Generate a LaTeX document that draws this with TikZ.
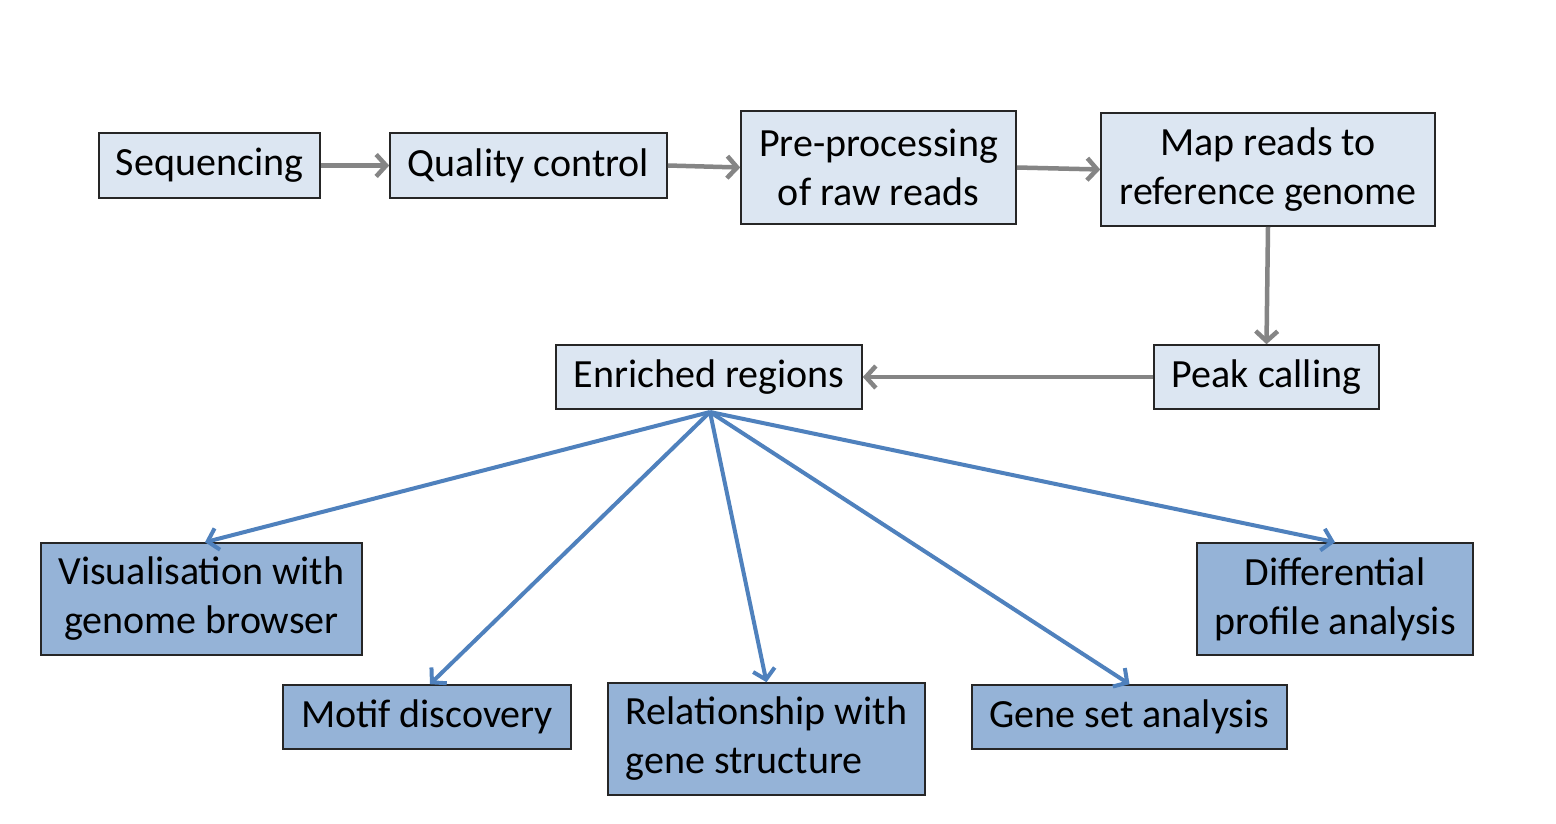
\documentclass[tikz,border=0pt]{standalone}
\usepackage{fontspec}
\setmainfont{Carlito}
\usetikzlibrary{arrows.meta}
\definecolor{lightbox}{HTML}{DCE6F2}
\definecolor{darkbox}{HTML}{95B3D7}
\definecolor{grayarrow}{HTML}{858585}
\definecolor{bluearrow}{HTML}{4F81BD}
\tikzset{
  box/.style={draw=black!85, line width=1.6pt, inner sep=0pt, align=center,
    font=\fontsize{40}{49}\selectfont},
  lbox/.style={box, fill=lightbox},
  dbox/.style={box, fill=darkbox},
  garrow/.style={draw=grayarrow, line width=4.5pt, -{Straight Barb[length=10pt,width=22pt,line width=4.5pt]}},
  barrow/.style={draw=bluearrow, line width=4pt, -{Straight Barb[length=10pt,width=22pt,line width=4pt]}},
}
\begin{document}
\begin{tikzpicture}[x=1pt,y=-1pt]
\useasboundingbox[fill=white] (0,0) rectangle (1556,824);
\node[lbox, minimum width=221pt, minimum height=65pt] (seq) at (209.5,165.5) {Sequencing};
\node[lbox, minimum width=277pt, minimum height=65pt] (qc) at (528.5,165.5) {Quality control};
\node[lbox, minimum width=275pt, minimum height=113pt] (pre) at (878.5,167.5) {Pre-processing\\of raw reads};
\node[lbox, minimum width=334pt, minimum height=113pt] (map) at (1268,169.5) {Map reads to\\reference genome};
\node[lbox, minimum width=225pt, minimum height=64pt] (peak) at (1266.5,377) {Peak calling};
\node[lbox, minimum width=306pt, minimum height=64pt] (enr) at (709,377) {Enriched regions};
\node[dbox, minimum width=321pt, minimum height=112pt] (vis) at (201.5,599) {Visualisation with\\genome browser};
\node[dbox, minimum width=288pt, minimum height=64pt] (motif) at (427,717) {Motif discovery};
\node[dbox, minimum width=317pt, minimum height=112pt, align=left] (rel) at (766.5,739) {Relationship with\\gene structure};
\node[dbox, minimum width=315pt, minimum height=64pt] (gene) at (1129.5,717) {Gene set analysis};
\node[dbox, minimum width=276pt, minimum height=112pt] (diff) at (1335,599) {Differential\\profile analysis};

\draw[garrow] (seq.east) -- (qc.west);
\draw[garrow] (qc.east) -- (pre.west);
\draw[garrow] (pre.east) -- (map.west);
\draw[garrow] (map.south) -- (peak.north);
\draw[garrow] (peak.west) -- (enr.east);

\coordinate (hub) at (710,412);
\draw[barrow] (hub) -- ([xshift=3.5pt]vis.north);
\draw[barrow] (hub) -- ([xshift=3pt]motif.north);
\draw[barrow] (hub) -- (rel.north);
\draw[barrow] (hub) -- (gene.north);
\draw[barrow] (hub) -- (diff.north);
\end{tikzpicture}
\end{document}
